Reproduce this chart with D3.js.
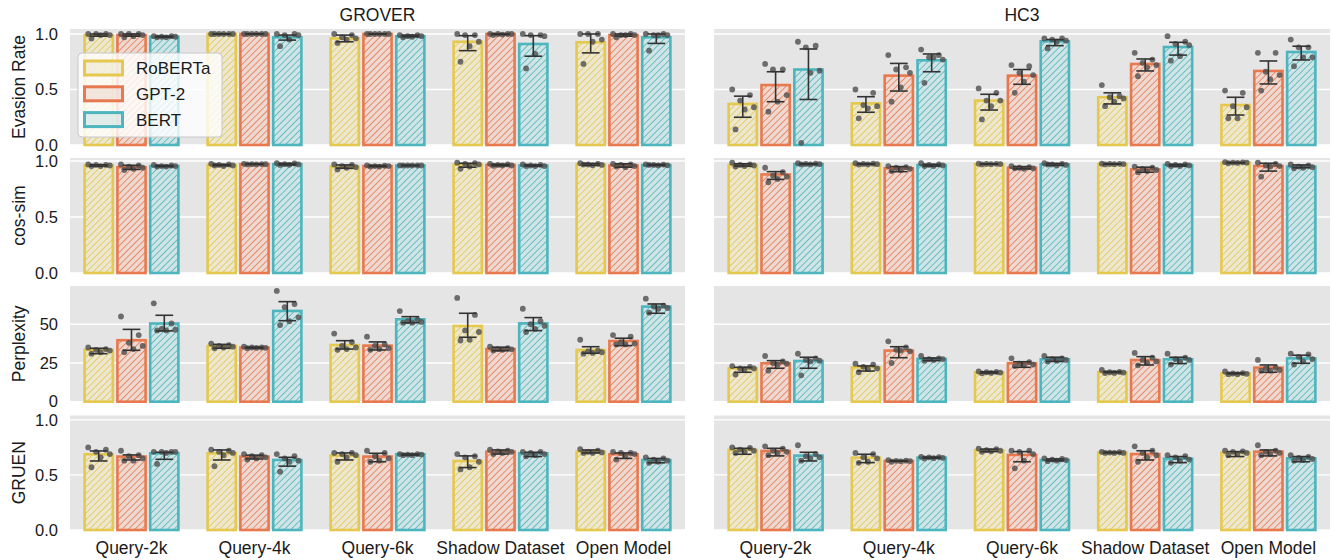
<!DOCTYPE html>
<html><head><meta charset="utf-8">
<script src="https://cdn.jsdelivr.net/npm/d3@7"></script>
<style>
html,body{margin:0;padding:0;background:#fff;}
text{font-family:"Liberation Sans",Arial,Helvetica,sans-serif;}
</style></head>
<body><svg id="chart" width="1332" height="560"></svg>
<script>
// ---------------- DATA ----------------
const categories = ["Query-2k","Query-4k","Query-6k","Shadow Dataset","Open Model"];
const models = ["RoBERTa","GPT-2","BERT"];
const datasets = ["GROVER","HC3"];
const metrics = ["Evasion Rate","cos-sim","Perplexity","GRUEN"];
const unitTicks = [0, 0.5, 1.0];
const pplTicks = [0, 25, 50];

// Evasion Rate
const groverER_mean = [[0.99,0.99,0.975],[1.0,1.0,0.97],[0.96,1.0,0.98],[0.93,1.0,0.91],[0.925,0.99,0.97]];
const groverER_ci = [[[0.98,1.0],[0.98,1.0],[0.97,0.98]],[[1,1],[1,1],[0.945,0.99]],[[0.93,0.99],[1,1],[0.975,0.99]],[[0.85,0.985],[0.995,1.0],[0.80,0.985]],[[0.83,1.0],[0.98,1.0],[0.915,1.0]]];
const groverER_pts = [
 [[1.0,1.0,1.0,0.99,0.99,0.96],[1.0,1.0,1.0,0.99,0.98,0.97],[0.98,0.98,0.975,0.975,0.97,0.97]],
 [[1,1,1,1,1,1],[1,1,1,1,1,1],[1.0,1.0,0.99,0.99,0.95,0.89]],
 [[1.0,0.99,0.97,0.96,0.95,0.92],[1,1,1,1,1,1],[0.99,0.99,0.98,0.98,0.975,0.97]],
 [[1.0,0.99,0.99,0.93,0.89,0.75],[1.0,1.0,1.0,1.0,0.995,0.99],[1.0,0.99,0.99,0.98,0.82,0.69]],
 [[1.0,1.0,1.0,0.95,0.93,0.73],[1.0,1.0,0.99,0.99,0.99,0.97],[1.0,1.0,0.99,0.99,0.99,0.85]]];
const hc3ER_mean = [[0.37,0.54,0.68],[0.375,0.625,0.763],[0.40,0.625,0.934],[0.43,0.73,0.883],[0.36,0.667,0.838]];
const hc3ER_ci = [[[0.25,0.44],[0.39,0.66],[0.41,0.865]],[[0.295,0.435],[0.486,0.735],[0.66,0.82]],[[0.315,0.457],[0.547,0.68],[0.895,0.95]],[[0.37,0.47],[0.667,0.775],[0.81,0.925]],[[0.27,0.43],[0.55,0.757],[0.766,0.89]]];
const hc3ER_pts = [
 [[0.50,0.45,0.40,0.34,0.32,0.14],[0.73,0.68,0.68,0.45,0.39,0.30],[0.93,0.895,0.88,0.67,0.65,0.02]],
 [[0.50,0.47,0.36,0.35,0.33,0.24],[0.81,0.70,0.68,0.65,0.52,0.39],[0.86,0.81,0.79,0.77,0.79,0.56]],
 [[0.51,0.47,0.40,0.40,0.35,0.23],[0.72,0.71,0.65,0.63,0.57,0.47],[0.96,0.96,0.95,0.94,0.93,0.87]],
 [[0.54,0.44,0.43,0.42,0.39,0.35],[0.83,0.77,0.74,0.72,0.70,0.62],[0.98,0.93,0.91,0.90,0.80,0.76]],
 [[0.49,0.47,0.35,0.34,0.24,0.24],[0.83,0.83,0.66,0.63,0.59,0.49],[0.95,0.88,0.88,0.79,0.79,0.71]]];

// cos-sim
const groverCos_mean = [[0.962,0.945,0.955],[0.965,0.972,0.972],[0.95,0.955,0.96],[0.968,0.965,0.96],[0.97,0.96,0.965]];
const groverCos_ci = [[[0.955,0.966],[0.925,0.962],[0.95,0.96]],[[0.958,0.97],[0.97,0.975],[0.965,0.978]],[[0.935,0.965],[0.95,0.96],[0.958,0.962]],[[0.945,0.98],[0.958,0.97],[0.955,0.965]],[[0.962,0.978],[0.945,0.975],[0.96,0.97]]];
const groverCos_pts = [
 [[0.97,0.965,0.965,0.96,0.955,0.955],[0.97,0.96,0.95,0.94,0.93,0.92],[0.965,0.96,0.955,0.955,0.95,0.95]],
 [[0.975,0.97,0.965,0.96,0.955,0.96],[0.975,0.973,0.972,0.971,0.97,0.97],[0.98,0.978,0.972,0.97,0.966,0.965]],
 [[0.97,0.965,0.955,0.945,0.94,0.925],[0.962,0.958,0.955,0.955,0.95,0.95],[0.961,0.96,0.96,0.96,0.96,0.96]],
 [[0.985,0.98,0.975,0.97,0.95,0.93],[0.975,0.97,0.965,0.96,0.96,0.958],[0.97,0.965,0.96,0.955,0.955,0.955]],
 [[0.98,0.975,0.97,0.965,0.962,0.968],[0.975,0.97,0.965,0.955,0.945,0.95],[0.97,0.968,0.965,0.962,0.96,0.965]]];
const hc3Cos_mean = [[0.964,0.88,0.973],[0.973,0.935,0.964],[0.973,0.94,0.97],[0.973,0.925,0.964],[0.985,0.955,0.95]];
const hc3Cos_ci = [[[0.955,0.975],[0.836,0.905],[0.97,0.976]],[[0.97,0.976],[0.905,0.95],[0.955,0.97]],[[0.972,0.975],[0.93,0.95],[0.962,0.978]],[[0.972,0.975],[0.9,0.945],[0.955,0.97]],[[0.983,0.987],[0.91,0.98],[0.94,0.965]]];
const hc3Cos_pts = [
 [[0.985,0.97,0.965,0.96,0.955,0.95],[0.94,0.90,0.87,0.86,0.84,0.81],[0.98,0.976,0.974,0.972,0.97,0.97]],
 [[0.98,0.976,0.974,0.972,0.97,0.968],[0.955,0.945,0.94,0.93,0.92,0.91],[0.98,0.97,0.965,0.96,0.955,0.955]],
 [[0.976,0.975,0.974,0.973,0.972,0.97],[0.955,0.945,0.94,0.935,0.93,0.935],[0.98,0.975,0.97,0.965,0.96,0.97]],
 [[0.976,0.975,0.974,0.973,0.972,0.97],[0.95,0.94,0.93,0.92,0.91,0.9],[0.975,0.97,0.965,0.96,0.955,0.955]],
 [[0.99,0.988,0.986,0.985,0.983,0.98],[0.985,0.975,0.96,0.955,0.95,0.86],[0.97,0.96,0.95,0.945,0.94,0.935]]];

// Perplexity
const groverPpl_mean = [[33.5,39.7,50.5],[36,34.9,58.6],[36.6,36.2,53.2],[48.9,34,50.6],[33.4,39.2,61.4]];
const groverPpl_ci = [[[31,34.5],[33.2,46.7],[45.7,55.8]],[[34.5,37],[34.6,35.2],[52.3,64.6]],[[34,39.4],[33.4,38.6],[51,54.9]],[[41.6,57.1],[32.9,35.2],[45.9,54.3]],[[31.3,35.5],[36.2,41],[57.1,63.1]]];
const groverPpl_pts = [
 [[35,34,33.5,33,32,31],[55,43,38,36,34,32],[63.5,50.5,47,46.5,46,46]],
 [[37.5,36.5,36,35.5,35,34.5],[35.5,35,35,34.8,34.7,34.5],[71.5,63,61,54.5,52,49.5]],
 [[44,38.5,36,35,34,33.5],[42,37,36,34.5,34,33.5],[58.5,53,52,51.5,51,51]],
 [[67,56,46,45,40,39.5],[35.5,34.5,34,33.8,33.5,33],[60,52,50,49,47,45]],
 [[40,33,32.5,32,31.5,31],[43,42,38.5,37.5,37,37],[66.5,62,61.5,60.5,60,57.5]]];
const hc3Ppl_mean = [[21.5,24.8,26.3],[22.2,33,27.6],[18.9,24.8,27.4],[19,26.9,27.4],[18.3,22,28]];
const hc3Ppl_ci = [[[19,22.2],[21.6,26.5],[21.6,28.7]],[[19.8,23.1],[28.4,35.5],[26.5,28.2]],[[18.5,19.3],[22.2,25.8],[26,28.7]],[[18.8,19.5],[23.7,29.1],[24.6,28.7]],[[18,18.6],[19,23.7],[24.8,30]]];
const hc3Ppl_pts = [
 [[23,22.5,21.5,21.5,21,17.5],[29.5,26,25,24.5,24,20],[31,28,27,26.5,26,17]],
 [[24.5,24,22.5,21.5,21,19],[39,35,33.5,32.5,33,25],[29.5,28,27.5,27.5,27,26.5]],
 [[19.5,19.2,19,18.8,18.6,18.3],[28,25.5,24.5,24,23.5,23],[29.5,28,27.5,27,26.5,26]],
 [[20.5,19.2,19,18.8,18.6,18.5],[31.5,28.5,27,26,25,23.5],[31,28.5,27.5,27,26,24]],
 [[19.5,18.5,18.2,18,17.8,17.8],[27,22,21.5,20.5,20,20],[31,30.5,29,27.5,26,24]]];

// GRUEN
const groverGruen_mean = [[0.688,0.667,0.697],[0.697,0.667,0.636],[0.676,0.667,0.688],[0.627,0.712,0.697],[0.712,0.688,0.636]];
const groverGruen_ci = [[[0.627,0.718],[0.636,0.682],[0.642,0.706]],[[0.636,0.727],[0.645,0.68],[0.58,0.66]],[[0.636,0.70],[0.62,0.697],[0.68,0.69]],[[0.567,0.673],[0.69,0.727],[0.667,0.706]],[[0.70,0.727],[0.65,0.70],[0.61,0.65]]];
const groverGruen_pts = [
 [[0.75,0.73,0.71,0.69,0.66,0.57],[0.72,0.68,0.67,0.65,0.63,0.63],[0.71,0.71,0.71,0.71,0.70,0.60]],
 [[0.73,0.72,0.71,0.70,0.68,0.58],[0.69,0.68,0.67,0.66,0.65,0.64],[0.69,0.67,0.65,0.63,0.62,0.53]],
 [[0.70,0.70,0.69,0.68,0.66,0.62],[0.72,0.70,0.67,0.65,0.63,0.62],[0.69,0.69,0.685,0.685,0.68,0.68]],
 [[0.69,0.67,0.66,0.62,0.57,0.55],[0.73,0.72,0.715,0.71,0.70,0.69],[0.71,0.71,0.70,0.69,0.68,0.67]],
 [[0.735,0.72,0.71,0.705,0.70,0.70],[0.71,0.70,0.70,0.69,0.67,0.64],[0.66,0.65,0.64,0.63,0.62,0.61]]];
const hc3Gruen_mean = [[0.727,0.718,0.676],[0.657,0.627,0.657],[0.724,0.682,0.636],[0.703,0.69,0.648],[0.703,0.712,0.651]];
const hc3Gruen_ci = [[[0.688,0.742],[0.673,0.742],[0.627,0.706]],[[0.612,0.688],[0.625,0.63],[0.653,0.662]],[[0.712,0.735],[0.62,0.712],[0.628,0.645]],[[0.70,0.707],[0.636,0.72],[0.612,0.667]],[[0.667,0.712],[0.673,0.727],[0.62,0.667]]];
const hc3Gruen_pts = [
 [[0.75,0.745,0.73,0.72,0.71,0.70],[0.76,0.74,0.72,0.71,0.70,0.68],[0.77,0.69,0.67,0.66,0.65,0.63]],
 [[0.70,0.69,0.66,0.65,0.62,0.61],[0.635,0.63,0.628,0.626,0.624,0.62],[0.665,0.662,0.66,0.655,0.652,0.65]],
 [[0.74,0.735,0.725,0.72,0.715,0.71],[0.72,0.72,0.71,0.69,0.63,0.56],[0.65,0.645,0.64,0.635,0.63,0.625]],
 [[0.71,0.706,0.703,0.70,0.70,0.70],[0.76,0.72,0.70,0.68,0.66,0.62],[0.68,0.67,0.66,0.64,0.63,0.61]],
 [[0.72,0.715,0.71,0.70,0.69,0.68],[0.77,0.72,0.71,0.70,0.69,0.68],[0.68,0.665,0.655,0.645,0.635,0.63]]];

// ---------------- LAYOUT / STYLE ----------------
const panels = [
  [{mean:groverER_mean,ci:groverER_ci,pts:groverER_pts},{mean:hc3ER_mean,ci:hc3ER_ci,pts:hc3ER_pts}],
  [{mean:groverCos_mean,ci:groverCos_ci,pts:groverCos_pts},{mean:hc3Cos_mean,ci:hc3Cos_ci,pts:hc3Cos_pts}],
  [{mean:groverPpl_mean,ci:groverPpl_ci,pts:groverPpl_pts},{mean:hc3Ppl_mean,ci:hc3Ppl_ci,pts:hc3Ppl_pts}],
  [{mean:groverGruen_mean,ci:groverGruen_ci,pts:groverGruen_pts},{mean:hc3Gruen_mean,ci:hc3Gruen_ci,pts:hc3Gruen_pts}]
];
const rowTicks = [unitTicks, unitTicks, pplTicks, unitTicks];
const rowFmt = [d3.format(".1f"), d3.format(".1f"), d3.format("d"), d3.format(".1f")];
const rowMax = [1.045, 1.027, 74.7, 1.04];
const rowTop = [29, 158, 286, 415.5];
const rowBot = [145, 273, 401.7, 530];
const colX = [[70, 685], [714, 1330]];
const colors = ["#E5C84E", "#E8794F", "#4DB5BD"];
const jit = [-0.32, 0.22, -0.08, 0.34, 0.06, -0.22];

const svg = d3.select("#chart");
const defs = svg.append("defs");
colors.forEach((c, i) => {
  const p = defs.append("pattern").attr("id", "hatch" + i)
    .attr("patternUnits", "userSpaceOnUse").attr("width", 4.6).attr("height", 4.6)
    .attr("patternTransform", "rotate(45)");
  p.append("line").attr("x1", 0).attr("y1", 0).attr("x2", 0).attr("y2", 4.6)
    .attr("stroke", c).attr("stroke-width", 1.6);
});
const paleFill = colors.map(c => d3.interpolateRgb(c, "#eeeeee")(0.82));

for (let r = 0; r < 4; r++) {
  const y = d3.scaleLinear().domain([0, rowMax[r]]).range([rowBot[r], rowTop[r]]);
  for (let c = 0; c < 2; c++) {
    const [x0, x1] = colX[c];
    const x = d3.scaleBand().domain(categories).range([x0, x1]).padding(0);
    const xm = d3.scaleBand().domain(models).range([x.bandwidth() * 0.1, x.bandwidth() * 0.9]).padding(0);
    const g = svg.append("g");
    g.append("rect").attr("x", x0).attr("y", rowTop[r]).attr("width", x1 - x0)
      .attr("height", rowBot[r] - rowTop[r]).attr("fill", "#E5E5E5");
    g.selectAll(".grid").data(rowTicks[r]).enter().append("line")
      .attr("x1", x0).attr("x2", x1).attr("y1", d => y(d)).attr("y2", d => y(d))
      .attr("stroke", "#fff").attr("stroke-width", 1.3);
    const D = panels[r][c];
    const bw = xm.bandwidth();
    categories.forEach((cat, ci) => {
      models.forEach((m, mi) => {
        const bx = x(cat) + xm(m);
        const v = D.mean[ci][mi];
        const inset = 2.3;
        const rx = bx + inset, rw = bw - 2 * inset, ry = y(v), rh = y(0) - y(v);
        g.append("rect").attr("x", rx).attr("y", ry).attr("width", rw).attr("height", rh).attr("fill", paleFill[mi]);
        g.append("rect").attr("x", rx).attr("y", ry).attr("width", rw).attr("height", rh).attr("fill", `url(#hatch${mi})`);
        g.append("rect").attr("x", rx).attr("y", ry).attr("width", rw).attr("height", rh)
          .attr("fill", "none").attr("stroke", colors[mi]).attr("stroke-width", 2.6);
        const cx = bx + bw / 2;
        D.pts[ci][mi].forEach((p, pi) => {
          g.append("circle").attr("cx", cx + jit[pi % jit.length] * bw).attr("cy", y(p)).attr("r", 2.9)
            .attr("fill", "#4d4d4d").attr("fill-opacity", 0.8);
        });
        const [lo, hi] = D.ci[ci][mi];
        const cap = bw * 0.27;
        g.append("line").attr("x1", cx).attr("x2", cx).attr("y1", y(lo)).attr("y2", y(hi))
          .attr("stroke", "#333").attr("stroke-width", 1.6);
        [lo, hi].forEach(e => g.append("line").attr("x1", cx - cap).attr("x2", cx + cap)
          .attr("y1", y(e)).attr("y2", y(e)).attr("stroke", "#333").attr("stroke-width", 1.6));
      });
    });
    if (c === 0) {
      const ax = svg.append("g").attr("transform", `translate(${x0},0)`)
        .call(d3.axisLeft(y).tickValues(rowTicks[r]).tickFormat(rowFmt[r]).tickSize(0).tickPadding(12));
      ax.select(".domain").remove();
      ax.selectAll("text").attr("font-size", 16.5).attr("fill", "#1a1a1a")
        .attr("font-family", '"Liberation Sans",Arial,sans-serif');
      svg.append("text").attr("transform", `translate(25,${(rowTop[r] + rowBot[r]) / 2}) rotate(-90)`)
        .attr("text-anchor", "middle").attr("font-size", 17.5).attr("fill", "#1a1a1a").text(metrics[r]);
    }
    if (r === 0) {
      svg.append("text").attr("x", (x0 + x1) / 2).attr("y", 21).attr("text-anchor", "middle")
        .attr("font-size", 17.5).attr("fill", "#1a1a1a").text(datasets[c]);
    }
    if (r === 3) {
      const ax = svg.append("g").attr("transform", `translate(0,${rowBot[r]})`)
        .call(d3.axisBottom(x).tickSize(0).tickPadding(12));
      ax.select(".domain").remove();
      ax.selectAll("text").attr("font-size", 17.5).attr("fill", "#1a1a1a")
        .attr("font-family", '"Liberation Sans",Arial,sans-serif');
    }
  }
}

// Legend
const lg = svg.append("g").attr("transform", "translate(78,53)");
lg.append("rect").attr("width", 144).attr("height", 84).attr("rx", 4)
  .attr("fill", "#fff").attr("fill-opacity", 0.8).attr("stroke", "#c8c8c8").attr("stroke-width", 1);
models.forEach((m, i) => {
  const yy = 15 + i * 25.8;
  lg.append("rect").attr("x", 6.5).attr("y", yy - 7).attr("width", 38).attr("height", 14)
    .attr("fill", paleFill[i]).attr("fill-opacity", 0.6).attr("stroke", colors[i]).attr("stroke-width", 3);
  lg.append("text").attr("x", 58).attr("y", yy + 6).attr("font-size", 17).attr("fill", "#1a1a1a").text(m);
});
</script></body></html>
